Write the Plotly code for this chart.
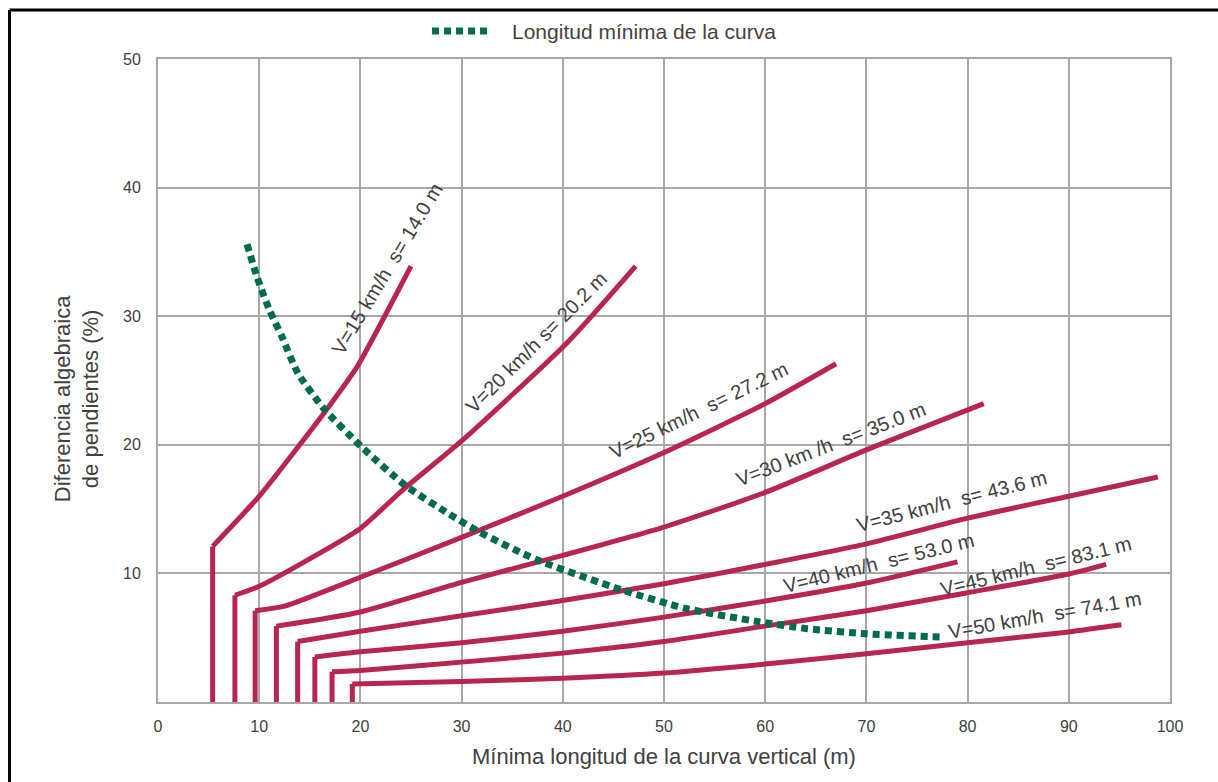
import plotly.graph_objects as go

# ---- data ----
v15_x = [5.4, 5.4, 10, 14, 17, 19.7, 22.4, 25.0]
v15_y = [0, 12.1, 16.0, 20.0, 23.1, 26.1, 30.0, 33.9]

v20_x = [7.6, 7.6, 10, 15.8, 20, 24.2, 30, 40.5, 47.2]
v20_y = [0, 8.3, 9.0, 11.5, 13.5, 16.5, 20.3, 28.0, 33.9]

v25_x = [9.6, 9.6, 12.5, 20, 30, 40, 50, 60, 67.0]
v25_y = [0, 7.1, 7.45, 9.7, 12.8, 16.0, 19.4, 23.2, 26.3]

v30_x = [11.7, 11.7, 20, 30, 40, 50, 60, 70, 81.6]
v30_y = [0, 5.9, 7.0, 9.3, 11.4, 13.6, 16.3, 19.6, 23.2]

v35_x = [13.8, 13.8, 20, 30, 40, 50, 60, 70, 80, 90, 98.8]
v35_y = [0, 4.7, 5.5, 6.7, 7.9, 9.2, 10.7, 12.3, 14.3, 16.0, 17.5]

v40_x = [15.5, 15.5, 20, 30, 40, 50, 60, 70, 79.0]
v40_y = [0, 3.5, 3.9, 4.6, 5.5, 6.6, 7.85, 9.25, 10.9]

v45_x = [17.2, 17.2, 20, 30, 40, 50, 60, 70, 80, 90, 93.7]
v45_y = [0, 2.35, 2.45, 3.1, 3.8, 4.7, 5.9, 7.1, 8.5, 9.95, 10.7]

v50_x = [19.2, 19.2, 30, 40, 50, 60, 70, 80, 90, 95.2]
v50_y = [0, 1.4, 1.6, 1.85, 2.25, 2.95, 3.75, 4.6, 5.45, 6.0]

min_x = [8.8, 9.8, 11.0, 12.2, 13.8, 16.4, 20.3, 24.5, 28.6, 31.8, 37.3, 45.7, 52.0, 59.3, 64.2, 70.0, 77.6]
min_y = [35.6, 33.0, 30.5, 28.5, 25.6, 22.8, 19.7, 16.8, 14.7, 13.2, 11.1, 8.75, 7.3, 6.25, 5.7, 5.3, 5.05]

labels = ["V=15 km/h\u00a0 s= 14.0 m", "V=20 km/h s= 20.2 m", "V=25 km/h\u00a0 s= 27.2 m",
          "V=30 km /h\u00a0 s= 35.0 m", "V=35 km/h\u00a0 s= 43.6 m", "V=40 km/h\u00a0 s= 53.0 m",
          "V=45 km/h\u00a0 s= 83.1 m", "V=50 km/h\u00a0 s= 74.1 m"]
label_x = [22.6, 37.4, 53.5, 66.5, 78.5, 71.2, 86.8, 87.6]
label_y = [33.7, 28.0, 22.7, 20.1, 15.6, 10.8, 10.6, 6.8]
label_angle = [-59, -45, -26, -21, -14.4, -13.8, -13.8, -10]

legend_text = "Longitud mínima de la curva"
x_title = "Mínima longitud de la curva vertical (m)"
y_title = "Diferencia algebraica<br>de pendientes (%)"

x_ticks = [0, 10, 20, 30, 40, 50, 60, 70, 80, 90, 100]
y_ticks = [10, 20, 30, 40, 50]

RED = "#B8254F"
GREEN = "#006B4F"
GRID = "#A8A8A8"
TXT = "#404040"
FONT = "Liberation Sans, Arial, sans-serif"

fig = go.Figure()
series = [(v15_x, v15_y), (v20_x, v20_y), (v25_x, v25_y), (v30_x, v30_y),
          (v35_x, v35_y), (v40_x, v40_y), (v45_x, v45_y), (v50_x, v50_y)]
for i, (xs, ys) in enumerate(series):
    # vertical part (straight) and curved part (smooth) share the corner point
    fig.add_trace(go.Scatter(x=xs[:2], y=ys[:2], mode="lines", showlegend=False,
                             line=dict(color=RED, width=5), hoverinfo="skip",
                             name=labels[i]))
    fig.add_trace(go.Scatter(x=xs[1:], y=ys[1:], mode="lines", showlegend=False,
                             line=dict(color=RED, width=5, shape="spline", smoothing=0.6),
                             hoverinfo="skip", name=labels[i]))

fig.add_trace(go.Scatter(x=min_x, y=min_y, mode="lines", name=legend_text,
                         line=dict(color=GREEN, width=7, dash="7px,5px", shape="spline", smoothing=0.6),
                         showlegend=False))

for t, lx, ly, a in zip(labels, label_x, label_y, label_angle):
    fig.add_annotation(x=lx, y=ly, text=t, textangle=a, showarrow=False,
                       font=dict(family=FONT, size=20, color=TXT),
                       xanchor="center", yanchor="middle")

# legend (sample line + text) at the top
fig.add_shape(type="line", xref="paper", yref="paper", x0=0.2708, x1=0.330, y0=1.0435, y1=1.0435,
              line=dict(color=GREEN, width=7, dash="7px,5px"))
fig.add_annotation(xref="paper", yref="paper", x=0.3478, y=1.0435, text=legend_text,
                   showarrow=False, xanchor="left", yanchor="middle",
                   font=dict(family=FONT, size=21, color="#4a3f3c"))

# y axis title (two lines, rotated)
fig.add_annotation(xref="paper", yref="paper", x=-0.080, y=0.471, text=y_title, textangle=-90,
                   showarrow=False, xanchor="center", yanchor="middle",
                   font=dict(family=FONT, size=22, color=TXT))

# outer black frame (top and left edges)
fig.add_shape(type="line", xref="paper", yref="paper", x0=-0.1467, x1=1.06, y0=1.0762, y1=1.0762,
              line=dict(color="black", width=3))
fig.add_shape(type="line", xref="paper", yref="paper", x0=-0.1467, x1=-0.1467, y0=1.0762, y1=-0.2,
              line=dict(color="black", width=3))

fig.update_layout(
    width=1218, height=782,
    margin=dict(l=158, r=48, t=59, b=80),
    paper_bgcolor="white", plot_bgcolor="white",
    font=dict(family=FONT, size=16, color=TXT),
    showlegend=False,
    xaxis=dict(range=[0, 100], tickvals=x_ticks, ticktext=[str(v) for v in x_ticks],
               showgrid=True, gridcolor=GRID, gridwidth=2, zeroline=False,
               showline=True, linecolor=GRID, linewidth=2, mirror=True,
               ticks="outside", ticklen=9, tickcolor="rgba(0,0,0,0)",
               tickfont=dict(size=16, color=TXT),
               title=dict(text=x_title, font=dict(size=22, color=TXT), standoff=14)),
    yaxis=dict(range=[0, 50], tickvals=y_ticks, ticktext=[str(v) for v in y_ticks],
               showgrid=True, gridcolor=GRID, gridwidth=2, zeroline=False,
               showline=True, linecolor=GRID, linewidth=2, mirror=True,
               ticks="outside", ticklen=12, tickcolor="rgba(0,0,0,0)",
               tickfont=dict(size=16, color=TXT)),
)

fig.write_html("out.html", config={"displayModeBar": False},
               post_script="document.body.style.margin='0';document.body.style.overflow='hidden';")
